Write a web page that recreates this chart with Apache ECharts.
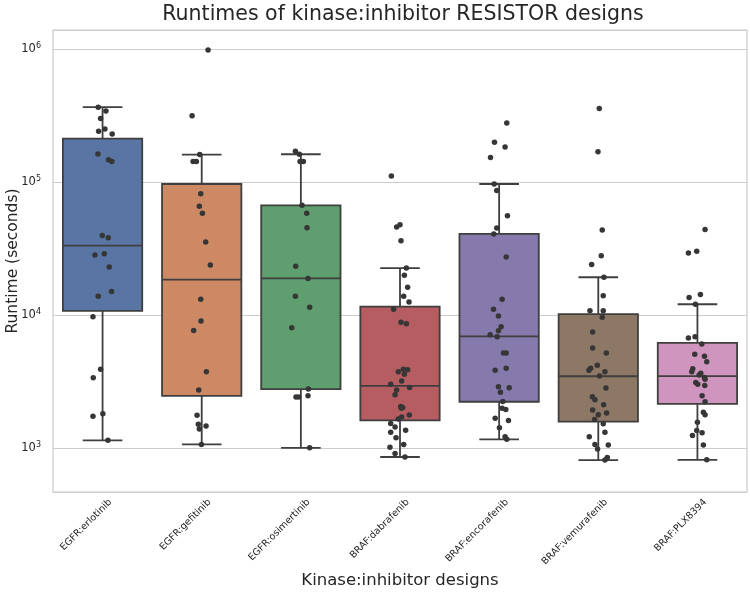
<!DOCTYPE html>
<html><head><meta charset="utf-8">
<script src="https://cdn.jsdelivr.net/npm/echarts@6/dist/echarts.min.js"></script>
<style>html,body{margin:0;padding:0;background:#fff}#c{width:750px;height:599px}</style>
</head><body><div id="c"></div>
<script>
const categories = ['EGFR:erlotinib','EGFR:gefitinib','EGFR:osimertinib','BRAF:dabrafenib','BRAF:encorafenib','BRAF:vemurafenib','BRAF:PLX8394'];
const boxColors = ['#5875a4','#cc8963','#5f9e6e','#b55d60','#857aab','#8d7866','#d095bf'];

// box stats: [lower whisker, Q1, median, Q3, upper whisker] in seconds
const erlotinibBox   = [1150, 10800, 33300, 212000, 366000];
const gefitinibBox   = [1070, 2480, 18500, 96800, 161000];
const osimertinibBox = [1010, 2790, 18900, 67000, 162000];
const dabrafenibBox  = [861, 1620, 2950, 11600, 22600];
const encorafenibBox = [1170, 2240, 6930, 40900, 96800];
const vemurafenibBox = [817, 1590, 3480, 10200, 19300];
const plx8394Box     = [820, 2160, 3490, 6210, 12100];

// individual runtimes (seconds) and their strip jitter (fraction of category width)
const erlotinibValues = [366000,342000,301000,251000,241000,230000,163000,147000,143000,39800,38200,28300,29000,23000,15100,13900,9750,3930,3390,1820,1740,1150];
const erlotinibJitter = [-0.044,0.034,-0.020,0.024,-0.040,0.097,-0.047,0.060,0.094,-0.003,0.057,-0.077,0.017,0.067,0.091,-0.044,-0.097,-0.020,-0.094,0.003,-0.097,0.054];
const gefitinibValues = [982000,315000,161000,143000,143000,81800,65800,58400,35500,23800,13200,9040,7690,3770,2740,1770,1520,1400,1470,1070];
const gefitinibJitter = [0.064,-0.097,-0.020,-0.087,-0.054,-0.010,-0.024,0.007,0.040,0.087,-0.010,-0.007,-0.081,0.047,-0.030,-0.047,-0.034,-0.024,0.044,-0.003];
const osimertinibValues = [171000,162000,143000,143000,67000,58400,45400,23300,18900,13900,11500,8050,2790,2430,2430,2480,1010];
const osimertinibJitter = [-0.055,-0.015,-0.008,0.025,0.012,0.059,0.062,-0.052,0.072,-0.055,0.089,-0.092,0.076,-0.049,-0.022,0.072,0.089];
const dabrafenibValues = [111000,46000,47900,36300,22600,20000,16200,13900,12600,11100,8850,8630,3770,3930,3900,3600,3210,3030,2750,2870,2530,2060,2030,2000,1780,1720,1660,1540,1450,1320,1370,1200,1070,1020,916,861];
const dabrafenibJitter = [-0.087,-0.034,0,0.010,0.064,0.044,0.077,0.037,0.091,-0.064,0.010,0.064,-0.017,0.034,0.077,0.044,0.017,-0.094,-0.034,0.097,-0.050,0.007,0.027,0.013,0.094,0.017,-0.017,-0.094,-0.050,-0.094,0.057,-0.040,0.037,-0.101,-0.050,0.050];
const encorafenibValues = [278000,199000,184000,153000,96800,86700,56000,45200,40700,27400,13200,11100,9860,8200,7660,7140,6890,5200,5200,3870,3990,2900,2850,2640,2250,2000,1960,1680,1620,1430,1220,1170];
const encorafenibJitter = [0.077,-0.047,0.060,-0.087,-0.050,-0.024,0.084,-0.024,-0.054,0.071,0.030,-0.057,-0.007,0.020,-0.007,-0.091,-0.020,0.044,0.071,-0.040,0.071,-0.007,0.101,0.013,0.037,0.030,0.067,-0.040,0.094,0.003,0.060,0.077];
const vemurafenibValues = [358000,169000,43700,28000,24100,19300,14000,10800,10800,9640,7480,5680,5200,4210,3990,3870,3770,3490,2840,2440,2320,2130,1940,1840,1790,1650,1530,1320,1220,1070,1060,989,855,817];
const vemurafenibJitter = [0.010,-0.003,0.040,0.030,-0.067,0.057,0.050,-0.084,0.050,0.040,-0.057,-0.057,0.081,-0.010,-0.077,-0.094,0.067,0.013,0.077,-0.060,-0.034,0.054,-0.057,0.084,0,-0.037,0.050,0.067,-0.091,-0.034,0.101,-0.007,0.091,0.067];
const plx8394Values = [44000,29300,30300,13600,14300,12100,6750,6900,6080,5100,4930,4480,3960,3770,3660,3560,3410,3300,3130,3030,2970,2480,2240,1870,1790,1570,1360,1310,1250,1060,820];
const plx8394Jitter = [0.077,-0.091,-0.007,-0.084,0.030,-0.020,-0.091,-0.024,0.044,-0.027,0.071,0.094,-0.047,-0.057,0.034,0.017,0.071,0.077,-0.017,0.003,0.074,0.047,0.077,0.060,0.077,0,-0.007,0.047,-0.050,0.060,0.094];

const yTickLabels = ['10^3','10^4','10^5','10^6'];

const boxStats = [erlotinibBox, gefitinibBox, osimertinibBox, dabrafenibBox, encorafenibBox, vemurafenibBox, plx8394Box];
const groupValues = [erlotinibValues, gefitinibValues, osimertinibValues, dabrafenibValues, encorafenibValues, vemurafenibValues, plx8394Values];
const groupJitter = [erlotinibJitter, gefitinibJitter, osimertinibJitter, dabrafenibJitter, encorafenibJitter, vemurafenibJitter, plx8394Jitter];

const boxData = boxStats.map((b, i) => [i].concat(b));
const pointData = [];
groupValues.forEach((vals, i) => vals.forEach((v, k) => pointData.push([i + groupJitter[i][k], v])));

const FONT = 'DejaVu Sans';
const TEXT = '#262626';
const EDGE = '#3f3f3f';

function renderBox(params, api) {
  const i = api.value(0);
  const lo = api.coord([i, api.value(1)]);
  const q1 = api.coord([i, api.value(2)]);
  const md = api.coord([i, api.value(3)]);
  const q3 = api.coord([i, api.value(4)]);
  const hi = api.coord([i, api.value(5)]);
  const band = api.size([1, 0])[0];
  const bw = band * 0.8, cap = bw / 2, cx = lo[0];
  const ls = {stroke: EDGE, lineWidth: 1.8};
  return {type: 'group', children: [
    {type: 'line', shape: {x1: cx, y1: q3[1], x2: cx, y2: hi[1]}, style: ls},
    {type: 'line', shape: {x1: cx, y1: q1[1], x2: cx, y2: lo[1]}, style: ls},
    {type: 'line', shape: {x1: cx - cap/2, y1: hi[1], x2: cx + cap/2, y2: hi[1]}, style: ls},
    {type: 'line', shape: {x1: cx - cap/2, y1: lo[1], x2: cx + cap/2, y2: lo[1]}, style: ls},
    {type: 'rect', shape: {x: cx - bw/2, y: q3[1], width: bw, height: q1[1] - q3[1]}, style: {fill: boxColors[i], stroke: EDGE, lineWidth: 1.8}},
    {type: 'line', shape: {x1: cx - bw/2, y1: md[1], x2: cx + bw/2, y2: md[1]}, style: ls}
  ]};
}

const chart = echarts.init(document.getElementById('c'), null, {renderer: 'canvas'});
chart.setOption({
  backgroundColor: '#ffffff',
  animation: false,
  title: {
    text: 'Runtimes of kinase:inhibitor RESISTOR designs',
    left: 398, textAlign: 'center', top: -1,
    textStyle: {fontFamily: FONT, fontSize: 20.5, fontWeight: 'normal', color: TEXT}
  },
  grid: {left: 53, right: 3, top: 30, bottom: 107, outerBoundsMode: 'none', containLabel: false,
         show: true, borderColor: '#cccccc', borderWidth: 1.2, backgroundColor: '#ffffff'},
  xAxis: [{
    type: 'category', data: categories,
    name: 'Kinase:inhibitor designs', nameLocation: 'middle', nameGap: 80, nameMoveOverlap: false,
    nameTextStyle: {fontFamily: FONT, fontSize: 16.5, color: TEXT},
    axisLine: {show: false}, axisTick: {show: false}, splitLine: {show: false},
    axisLabel: {rotate: 45, fontFamily: FONT, fontSize: 9.6, color: TEXT, margin: 1, verticalAlign: 'top', lineHeight: 22, interval: 0}
  }, {
    type: 'value', min: -0.5, max: 6.5, show: false
  }],
  yAxis: {
    type: 'log', logBase: 10, min: 470, max: 1390000,
    name: 'Runtime (seconds)', nameLocation: 'middle', nameGap: 32, nameMoveOverlap: false,
    nameTextStyle: {fontFamily: FONT, fontSize: 15.5, color: TEXT},
    axisLine: {show: false}, axisTick: {show: false},
    splitLine: {show: true, lineStyle: {color: '#cccccc', width: 1.2}},
    axisLabel: {
      showMinLabel: false, showMaxLabel: false, margin: 12,
      formatter: function (v) {
        const e = Math.log10(v), r = Math.round(e);
        if (Math.abs(e - r) > 1e-6) return '';
        const lab = yTickLabels.find(t => t === '10^' + r);
        if (!lab) return '';
        return '{b|10}{s|' + r + '}';
      },
      rich: {
        b: {fontFamily: FONT, fontSize: 11.5, color: TEXT, lineHeight: 14},
        s: {fontFamily: FONT, fontSize: 8, color: TEXT, verticalAlign: 'top', lineHeight: 14, padding: [0, 0, 6, 0]}
      }
    }
  },
  series: [{
    type: 'custom', xAxisIndex: 0, renderItem: renderBox, data: boxData,
    encode: {x: 0, y: [1, 2, 3, 4, 5]}, z: 2, silent: true
  }, {
    type: 'scatter', xAxisIndex: 1, data: pointData, symbolSize: 5.5,
    itemStyle: {color: '#363636', opacity: 1}, z: 3, silent: true
  }]
});
</script></body></html>
